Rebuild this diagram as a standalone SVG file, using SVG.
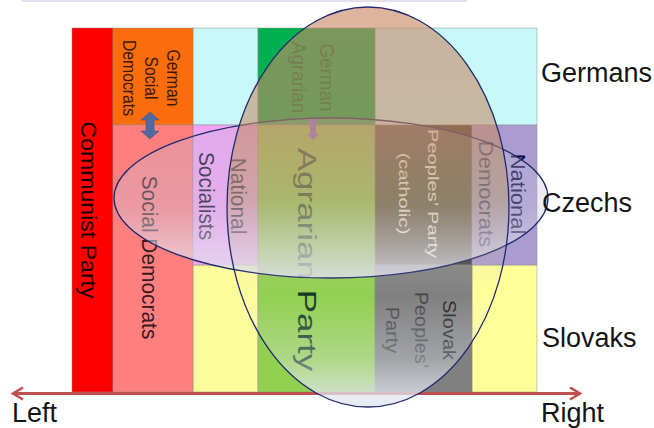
<svg xmlns="http://www.w3.org/2000/svg" width="654" height="428" viewBox="0 0 654 428">
  <style>
    text { font-family: "Liberation Sans", Arial, sans-serif; }
    .cell { stroke: #8a8a8a; stroke-width: 0.8; stroke-opacity: 0.6; }
    .vt { text-anchor: middle; }
    .row { font-size: 27px; fill: #141414; }
    .axis { fill: none; stroke: #c0504d; stroke-width: 3; }
    .ell { stroke: #1f2a6e; stroke-width: 1.3; }
  </style>
  <defs>
    <marker id="chev" markerUnits="userSpaceOnUse" markerWidth="14" markerHeight="16" refX="11" refY="7" orient="auto-start-reverse">
      <path d="M1,1 L11,7 L1,13" fill="none" stroke="#c0504d" stroke-width="2.6"/>
    </marker>
    <linearGradient id="gH" x1="0" y1="0" x2="0" y2="1">
      <stop offset="0" stop-color="rgb(190,185,215)" stop-opacity="0.3"/>
      <stop offset="0.55" stop-color="rgb(200,200,222)" stop-opacity="0.35"/>
      <stop offset="0.8" stop-color="rgb(222,222,236)" stop-opacity="0.6"/>
      <stop offset="1" stop-color="rgb(225,225,238)" stop-opacity="0.85"/>
    </linearGradient>
    <linearGradient id="gV" x1="0" y1="0" x2="0" y2="1">
      <stop offset="0" stop-color="rgb(200,135,100)" stop-opacity="0.62"/>
      <stop offset="0.29" stop-color="rgb(200,138,98)" stop-opacity="0.58"/>
      <stop offset="0.48" stop-color="rgb(180,150,80)" stop-opacity="0.4"/>
      <stop offset="0.62" stop-color="rgb(200,185,150)" stop-opacity="0.18"/>
      <stop offset="0.72" stop-color="rgb(220,225,235)" stop-opacity="0"/>
      <stop offset="0.88" stop-color="rgb(225,230,240)" stop-opacity="0.35"/>
      <stop offset="1" stop-color="rgb(228,232,242)" stop-opacity="0.9"/>
    </linearGradient>
  </defs>

  <rect x="22" y="0" width="445" height="2" fill="#e4dfec"/>

  <g id="cells">
    <g id="background-cells">
      <rect class="cell" x="193" y="28" width="65" height="97" fill="#c8f8fa"/>
      <rect class="cell" x="375" y="28" width="162" height="97" fill="#c8f8fa"/>
      <rect class="cell" x="193" y="265" width="65" height="127" fill="#fdfc9c"/>
      <rect class="cell" x="472" y="265" width="65" height="127" fill="#ffff99"/>
    </g>
    <g id="communist-party">
      <rect class="cell" x="72" y="28" width="41" height="364" fill="#ff0000"/>
      <text class="vt" transform="translate(81,210) rotate(90) scale(1.05,1)" font-size="22" fill="#1a0000">Communist Party</text>
    </g>
    <g id="german-social-democrats">
      <rect class="cell" x="113" y="28" width="80" height="97" fill="#fb6c0c"/>
      <text class="vt" transform="translate(167,78) rotate(90) scale(0.9,1)" font-size="17.5" fill="#3a1a05"><tspan x="0" dy="0">German</tspan><tspan x="0" dy="22">Social</tspan><tspan x="0" dy="22">Democrats</tspan></text>
    </g>
    <g id="social-democrats">
      <rect class="cell" x="113" y="125" width="80" height="267" fill="#ff7f7f"/>
      <text class="vt" transform="translate(142,257.5) rotate(90) scale(0.95,1)" font-size="22" fill="#3a1a1f">Social Democrats</text>
    </g>
    <g id="national-socialists">
      <rect class="cell" x="193" y="125" width="65" height="140" fill="#f2a2f2"/>
      <text class="vt" transform="translate(231,196) rotate(90) scale(0.95,1)" font-size="22"><tspan x="0" dy="0" fill="#10104a">National</tspan><tspan x="0" dy="32" fill="#0c0020">Socialists</tspan></text>
    </g>
    <g id="german-agrarian">
      <rect class="cell" x="258" y="28" width="117" height="97" fill="#00b050"/>
      <text class="vt" transform="translate(320,77.5) rotate(90) scale(0.9,1)" font-size="21" fill="#006e34"><tspan x="0" dy="0">German</tspan><tspan x="0" dy="28">Agrarian</tspan></text>
    </g>
    <g id="agrarian-party">
      <rect class="cell" x="258" y="125" width="117" height="267" fill="#92d050"/>
      <text class="vt" transform="translate(298,259.5) rotate(90) scale(1.4,1)" font-size="25" fill="#143a24">Agrarian Party</text>
    </g>
    <g id="peoples-party-catholic">
      <rect class="cell" x="375" y="125" width="97" height="140" fill="#4a4440"/>
      <text class="vt" transform="translate(428,193.5) rotate(90) scale(1.3,1)" font-size="15.5" fill="#ffffff"><tspan x="0" dy="0">Peoples’ Party</tspan><tspan x="0" dy="29">(catholic)</tspan></text>
    </g>
    <g id="national-democrats">
      <rect class="cell" x="472" y="125" width="65" height="140" fill="#ab9bd0"/>
      <text class="vt" transform="translate(511,194) rotate(90) scale(1.1,1)" font-size="20"><tspan x="0" dy="0" fill="#00002a">National</tspan><tspan x="0" dy="32" fill="#201a6a">Democrats</tspan></text>
    </g>
    <g id="slovak-peoples-party">
      <rect class="cell" x="375" y="265" width="97" height="127" fill="#808080"/>
      <text class="vt" transform="translate(443,330) rotate(90) scale(1.08,1)" font-size="18.5"><tspan x="0" dy="0" fill="#262626">Slovak</tspan><tspan x="0" dy="28.5" fill="#45454c">Peoples’</tspan><tspan x="0" dy="28.5" fill="#45454c">Party</tspan></text>
    </g>
  </g>

  <g id="connectors">
    <line id="left-right-axis" class="axis" x1="13" y1="393.5" x2="580" y2="393.5" marker-start="url(#chev)" marker-end="url(#chev)"/>
    <path id="german-sd-link" d="M150,112 L159,120 L154,120 L154,131 L159,131 L150,139 L141,131 L146,131 L146,120 L141,120 Z" fill="#5169a3" stroke="#3d4f80" stroke-width="0.5"/>
    <path id="german-agrarian-link" d="M313,117 L319,123 L316,123 L316,134 L319,134 L313,140 L307,134 L310,134 L310,123 L307,123 Z" fill="#7a5af5"/>
  </g>

  <g id="groupings">
    <ellipse id="czech-bloc" class="ell" cx="331" cy="198" rx="217" ry="80" fill="url(#gH)"/>
    <ellipse id="agrarian-bloc" class="ell" cx="368" cy="207" rx="141" ry="200" fill="url(#gV)"/>
  </g>

  <g id="labels">
    <text id="germans" class="row" x="541" y="82">Germans</text>
    <text id="czechs" class="row" x="542" y="212">Czechs</text>
    <text id="slovaks" class="row" x="542" y="347">Slovaks</text>
    <text id="left" class="row" x="12" y="422">Left</text>
    <text id="right" class="row" x="541" y="422">Right</text>
  </g>
</svg>
